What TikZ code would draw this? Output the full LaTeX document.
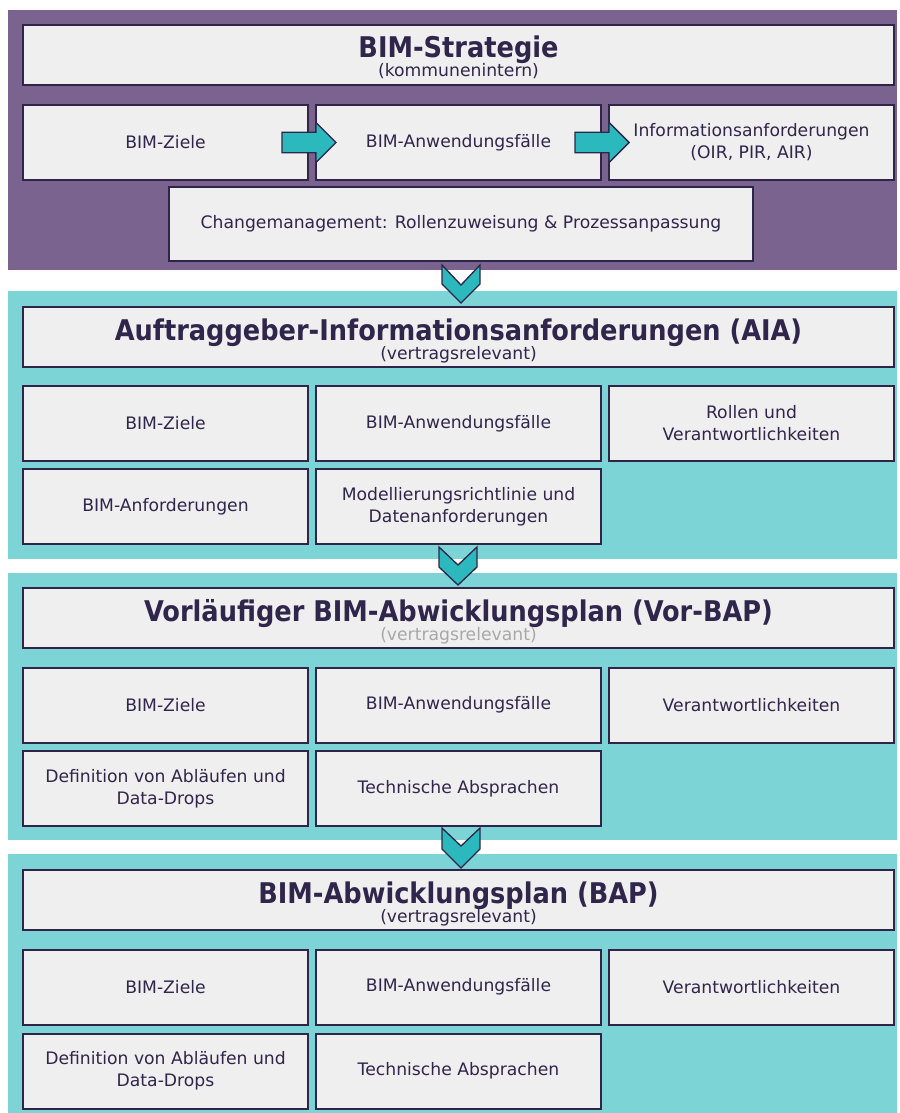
\documentclass[tikz,border=0pt]{standalone}
\usepackage{fontspec}
\setmainfont{DejaVu Sans}
\newfontfamily\hdfont{DejaVu Sans Condensed}
\usepackage{xcolor}
\usepackage{tikz}
\usetikzlibrary{shapes.arrows}

\definecolor{bandpurple}{HTML}{7B6390}
\definecolor{bandteal}{HTML}{7DD4D6}
\definecolor{boxfill}{HTML}{EFEFEF}
\definecolor{boxline}{HTML}{2E2548}
\definecolor{txtpurple}{HTML}{30254A}
\definecolor{arrowteal}{HTML}{2BB9BD}
\definecolor{subgray}{HTML}{A8A8A8}

\tikzset{
  box/.style={draw=boxline, line width=2pt, fill=boxfill, text=txtpurple, inner sep=0pt,
    minimum width=285pt, minimum height=75pt, align=center,
    font=\fontsize{17.2}{22}\selectfont},
  widebox/.style={box, minimum width=871pt, minimum height=60pt},
  hd/.style={anchor=base, inner sep=0pt, text=txtpurple, font=\hdfont\bfseries\fontsize{28.5}{30}\selectfont},
  sub/.style={anchor=base, inner sep=0pt, text=txtpurple, font=\fontsize{17.2}{20}\selectfont},
  flowarr/.style={single arrow, draw=boxline, line width=1.3pt, fill=arrowteal, inner xsep=0pt, inner ysep=9.5pt,
    minimum height=54pt, minimum width=39pt, single arrow head extend=10pt, single arrow head indent=0pt, xshift=-5pt},
  chev/.style={draw=boxline, line width=1.3pt, fill=arrowteal, line join=miter}
}

\begin{document}
\begin{tikzpicture}[x=1pt,y=1pt,yscale=-1,xscale=1]
\useasboundingbox (0,0) rectangle (899,1113);
% bands
\fill[bandpurple] (8,10) rectangle (897,270);
\fill[bandteal] (8,291) rectangle (897,559);
\fill[bandteal] (8,573) rectangle (897,840);
\fill[bandteal] (8,854) rectangle (897,1113);

% BIM-Strategie
\node[widebox] (strat) at (458.5,55) {};
\node[hd] (stratHd) at (458.5,58) {BIM-Strategie};
\node[sub] (stratSub) at (458.5,77) {(kommunenintern)};
\node[box] (sZiele) at (165.5,142.5) {BIM-Ziele};
\node[box] (sFaelle) at (458.5,142.5) {BIM-Anwendungsfälle};
\node[box] (sInfo) at (751.5,142.5) {Informationsanforderungen\\(OIR, PIR, AIR)};
\node[box, minimum width=584pt, minimum height=74pt] (sChange) at (461,224) {Changemanagement: Rollenzuweisung \& Prozessanpassung};
\node[flowarr] (sArr1) at (sZiele.east) {};
\node[flowarr] (sArr2) at (sFaelle.east) {};

% AIA
\node[widebox] (aia) at (458.5,336.5) {};
\node[hd] (aiaHd) at (458.5,340) {Auftraggeber-Informationsanforderungen (AIA)};
\node[sub] (aiaSub) at (458.5,359) {(vertragsrelevant)};
\node[box] (aZiele) at (165.5,423.5) {BIM-Ziele};
\node[box] (aFaelle) at (458.5,423.5) {BIM-Anwendungsfälle};
\node[box] (aRollen) at (751.5,423.5) {Rollen und\\Verantwortlichkeiten};
\node[box] (aAnf) at (165.5,506.5) {BIM-Anforderungen};
\node[box] (aModell) at (458.5,506.5) {Modellierungsrichtlinie und\\Datenanforderungen};

% Vor-BAP
\node[widebox] (vbap) at (458.5,617.5) {};
\node[hd] (vbapHd) at (458.5,621) {Vorläufiger BIM-Abwicklungsplan (Vor-BAP)};
\node[sub, text=subgray] (vbapSub) at (458.5,640) {(vertragsrelevant)};
\node[box] (vZiele) at (165.5,705) {BIM-Ziele};
\node[box] (vFaelle) at (458.5,705) {BIM-Anwendungsfälle};
\node[box] (vVer) at (751.5,705) {Verantwortlichkeiten};
\node[box] (vDef) at (165.5,788.5) {Definition von Abläufen und\\Data-Drops};
\node[box] (vTech) at (458.5,788.5) {Technische Absprachen};

% BAP
\node[widebox] (bap) at (458.5,899.5) {};
\node[hd] (bapHd) at (458.5,903) {BIM-Abwicklungsplan (BAP)};
\node[sub] (bapSub) at (458.5,922) {(vertragsrelevant)};
\node[box] (bZiele) at (165.5,987) {BIM-Ziele};
\node[box] (bFaelle) at (458.5,987) {BIM-Anwendungsfälle};
\node[box] (bVer) at (751.5,987) {Verantwortlichkeiten};
\node[box] (bDef) at (165.5,1071) {Definition von Abläufen und\\Data-Drops};
\node[box] (bTech) at (458.5,1071) {Technische Absprachen};

% chevrons
\draw[chev] (442,265) -- (461,285) -- (480,265) -- (480,284) -- (461,303) -- (442,284) -- cycle;
\draw[chev] (439,547) -- (458,565) -- (477,547) -- (477,567) -- (458,585) -- (439,567) -- cycle;
\draw[chev] (442,828) -- (461,846) -- (480,828) -- (480,849) -- (461,868) -- (442,849) -- cycle;
\end{tikzpicture}
\end{document}
